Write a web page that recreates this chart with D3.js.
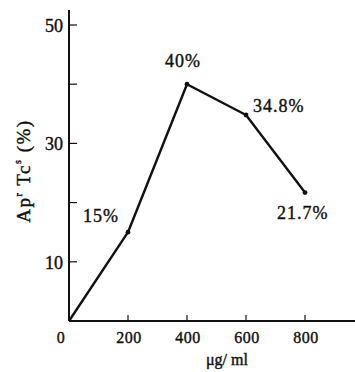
<!DOCTYPE html>
<html>
<head>
<meta charset="utf-8">
<script src="https://cdn.jsdelivr.net/npm/d3@7"></script>
<style>
  body { margin: 0; background: #fff; }
  svg text { font-family: "Liberation Serif", "DejaVu Serif", serif; fill: #111; stroke: #111; stroke-width: 0.4; }
</style>
</head>
<body>
<svg id="chart" width="355" height="372"></svg>
<script>
// concentration (ug/ml) vs Ap^r Tc^s (%)
const doses = [0, 200, 400, 600, 800];
const rates = [0, 15, 40, 34.8, 21.7];
const pointLabels = ["", "15%", "40%", "34.8%", "21.7%"];
const xTicks = [200, 400, 600, 800];
const yTicks = [10, 20, 30, 40, 50];
const yTickLabels = ["10", "", "30", "", "50"];

const svg = d3.select("#chart");

const x = d3.scaleLinear().domain([0, 800]).range([69, 305]);
const y = d3.scaleLinear().domain([0, 50]).range([321, 25]);

// x axis
const gx = svg.append("g").attr("transform", `translate(0,${y(0)})`);
gx.append("line")
    .attr("x1", x(0)).attr("x2", 355)
    .attr("stroke", "#111").attr("stroke-width", 2);
gx.selectAll(".xt")
    .data(xTicks)
    .enter()
    .append("line")
    .attr("x1", d => x(d)).attr("x2", d => x(d))
    .attr("y1", 0).attr("y2", -6)
    .attr("stroke", "#111").attr("stroke-width", 1.2);
gx.selectAll(".xl")
    .data([0].concat(xTicks))
    .enter()
    .append("text")
    .attr("x", d => d === 0 ? x(d) - 8 : x(d) + 1)
    .attr("y", 22)
    .attr("text-anchor", "middle")
    .attr("font-size", 16)
    .attr("letter-spacing", 0.5)
    .text(d => d);

// y axis
const gy = svg.append("g").attr("transform", `translate(${x(0)},0)`);
gy.append("line")
    .attr("y1", 10).attr("y2", y(0))
    .attr("stroke", "#111").attr("stroke-width", 2);
gy.selectAll(".yt")
    .data(yTicks)
    .enter()
    .append("line")
    .attr("y1", d => y(d)).attr("y2", d => y(d))
    .attr("x1", 0).attr("x2", 8)
    .attr("stroke", "#111").attr("stroke-width", 1.2);
gy.selectAll(".yl")
    .data(yTicks)
    .enter()
    .append("text")
    .attr("x", -6)
    .attr("y", d => y(d) + 7)
    .attr("text-anchor", "end")
    .attr("font-size", 18)
    .text((d, i) => yTickLabels[i]);

// axis titles
svg.append("text")
    .attr("x", 227).attr("y", 365)
    .attr("text-anchor", "middle")
    .attr("font-size", 16)
    .text("μg/ ml");

const yTitle = svg.append("text")
    .attr("transform", "translate(30,171) rotate(-90)")
    .attr("text-anchor", "middle")
    .attr("font-size", 19)
    .attr("letter-spacing", 1.5);
yTitle.append("tspan").text("Ap");
yTitle.append("tspan").attr("dy", -8).attr("font-size", 10).text("r");
yTitle.append("tspan").attr("dy", 8).text(" Tc");
yTitle.append("tspan").attr("dy", -9).attr("font-size", 10).text("s");
yTitle.append("tspan").attr("dy", 9).text(" (%)");

// data line
const line = d3.line().x(d => x(d[0])).y(d => y(d[1]));
const pts = doses.map((d, i) => [d, rates[i]]);
svg.append("path")
    .datum(pts)
    .attr("d", line)
    .attr("fill", "none")
    .attr("stroke", "#111")
    .attr("stroke-width", 2.4)
    .attr("stroke-linejoin", "round");

svg.selectAll(".pt")
    .data(pts.slice(1))
    .enter()
    .append("circle")
    .attr("cx", d => x(d[0]))
    .attr("cy", d => y(d[1]))
    .attr("r", 2.4)
    .attr("fill", "#111");

// value labels
const labelOffsets = [null, [-45, -10], [-22, -17], [7, -3], [-28, 26]];
svg.selectAll(".vl")
    .data(pts)
    .enter()
    .append("text")
    .filter((d, i) => pointLabels[i] !== "")
    .attr("x", d => x(d[0]) + labelOffsets[doses.indexOf(d[0])][0])
    .attr("y", d => y(d[1]) + labelOffsets[doses.indexOf(d[0])][1])
    .attr("font-size", 18)
    .attr("letter-spacing", 1)
    .text(d => pointLabels[doses.indexOf(d[0])]);
</script>
</body>
</html>
